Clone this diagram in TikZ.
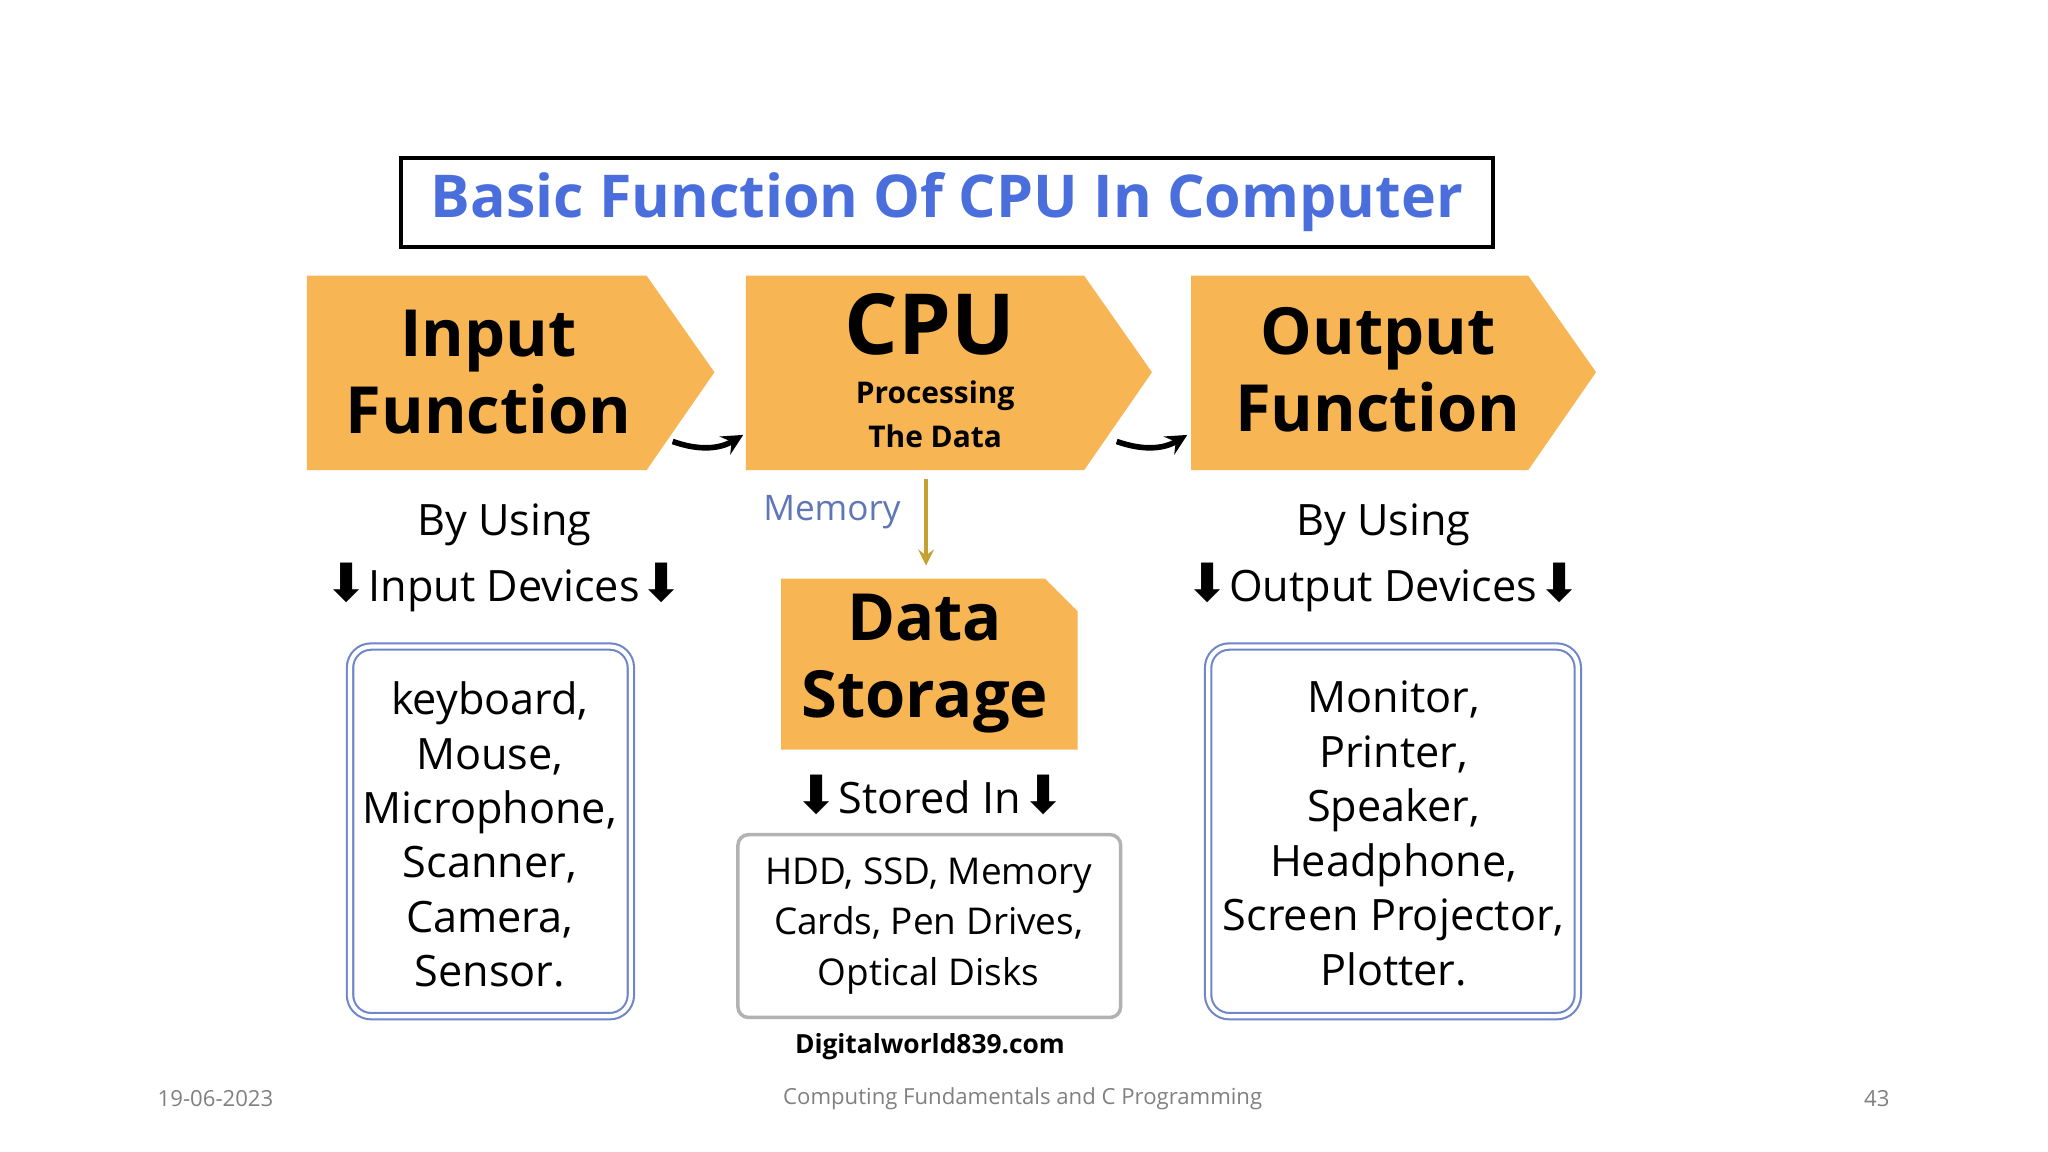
\documentclass[tikz,border=0pt]{standalone}
\usepackage{fontspec}
\setmainfont{Open Sans}
\newfontfamily\symb{DejaVu Sans}
\usetikzlibrary{positioning}
\definecolor{chev}{HTML}{F8B554}
\definecolor{titleblue}{HTML}{4A6FDC}
\definecolor{frameblue}{HTML}{6F86C8}
\newcommand{\dn}{{\symb\fontsize{15}{15}\selectfont\char"2B07}}
\begin{document}
\begin{tikzpicture}[x=0.013061cm, y=-0.013061cm,
    chevron/.style={fill=chev, draw=none},
    label/.style={font=\fontsize{12.3}{15.5}\selectfont, align=center},
    head/.style={font=\bfseries\fontsize{18.5}{24}\selectfont, align=center},
    devbox/.style={draw=frameblue, double=white, double distance=1.2pt, line width=0.6pt, rounded corners=6pt},
    curl/.style={-stealth, line width=1.6pt},
    foot/.style={font=\fontsize{6.3}{8}\selectfont, text=gray}
  ]
  \useasboundingbox (0,0) rectangle (1568,882);

  % title
  \node[draw, line width=1pt, minimum width=836*0.013061cm, minimum height=68*0.013061cm,
        text=titleblue, font=\bfseries\fontsize{16.8}{19}\selectfont] (title) at (725,155)
        {Basic Function Of CPU In Computer};

  % chevrons
  \fill[chevron] (235,211) -- (495,211) -- (547,285) -- (495,360) -- (235,360) -- cycle;
  \fill[chevron] (571,211) -- (830,211) -- (882,285) -- (830,360) -- (571,360) -- cycle;
  \fill[chevron] (912,211) -- (1170,211) -- (1222,285) -- (1170,360) -- (912,360) -- cycle;
  \node[head] (input) at (374,285) {Input\\[-2pt]Function};
  \node[font=\bfseries\fontsize{24}{28}\selectfont] (cpu) at (712,248) {CPU};
  \node[font=\bfseries\fontsize{8.5}{12.5}\selectfont, align=center] (cpusub) at (716,317) {Processing\\The Data};
  \node[head] (output) at (1055,283) {Output\\[-2pt]Function};

  \coordinate (c1a) at (515,338); \coordinate (c1b) at (569,333);
  \coordinate (c2a) at (855,338); \coordinate (c2b) at (909,333);
  \draw[curl] (c1a) to[bend right=25] (c1b);
  \draw[curl] (c2a) to[bend right=25] (c2b);

  % input side
  \node[label] (byin) at (386,402) {By Using};
  \node[label] (indev) at (386,450) {\dn Input Devices\dn};
  \draw[devbox] (268,495) rectangle (483,778);
  \node[label, align=center] (inlist) at (375,639)
    {keyboard,\\Mouse,\\Microphone,\\Scanner,\\Camera,\\Sensor.};

  % memory / storage
  \node[font=\fontsize{10}{12}\selectfont, text=titleblue!60!gray] (mem) at (637,392) {Memory};
  \coordinate (ma) at (709,367); \coordinate (mb) at (709,433);
  \draw[-stealth, color=chev!60!olive, line width=1pt] (ma) -- (mb);
  \fill[chevron] (598,443) -- (800,443) -- (825,468) -- (825,574) -- (598,574) -- cycle;
  \node[head] (store) at (708,508) {Data\\[-2pt]Storage};
  \node[label] (storedin) at (712,609) {\dn Stored In\dn};
  \draw[draw=gray!60, line width=1pt, rounded corners=3pt] (565,639) rectangle (858,779);
  \node[font=\fontsize{10.5}{14.5}\selectfont, align=center] (media) at (711,709)
    {HDD, SSD, Memory\\Cards, Pen Drives,\\Optical Disks};
  \node[font=\bfseries\fontsize{7.5}{9}\selectfont] (site) at (712,801) {Digitalworld839.com};

  % output side
  \node[label] (byout) at (1059,402) {By Using};
  \node[label] (outdev) at (1059,450) {\dn Output Devices\dn};
  \draw[devbox] (925,495) rectangle (1208,778);
  \node[label, align=center] (outlist) at (1067,638)
    {Monitor,\\Printer,\\Speaker,\\Headphone,\\Screen Projector,\\Plotter.};

  % footer
  \node[foot] (date) at (165,841) {19-06-2023};
  \node[foot] (course) at (783,841) {Computing Fundamentals and C Programming};
  \node[foot] (page) at (1437,841) {43};
\end{tikzpicture}
\end{document}
